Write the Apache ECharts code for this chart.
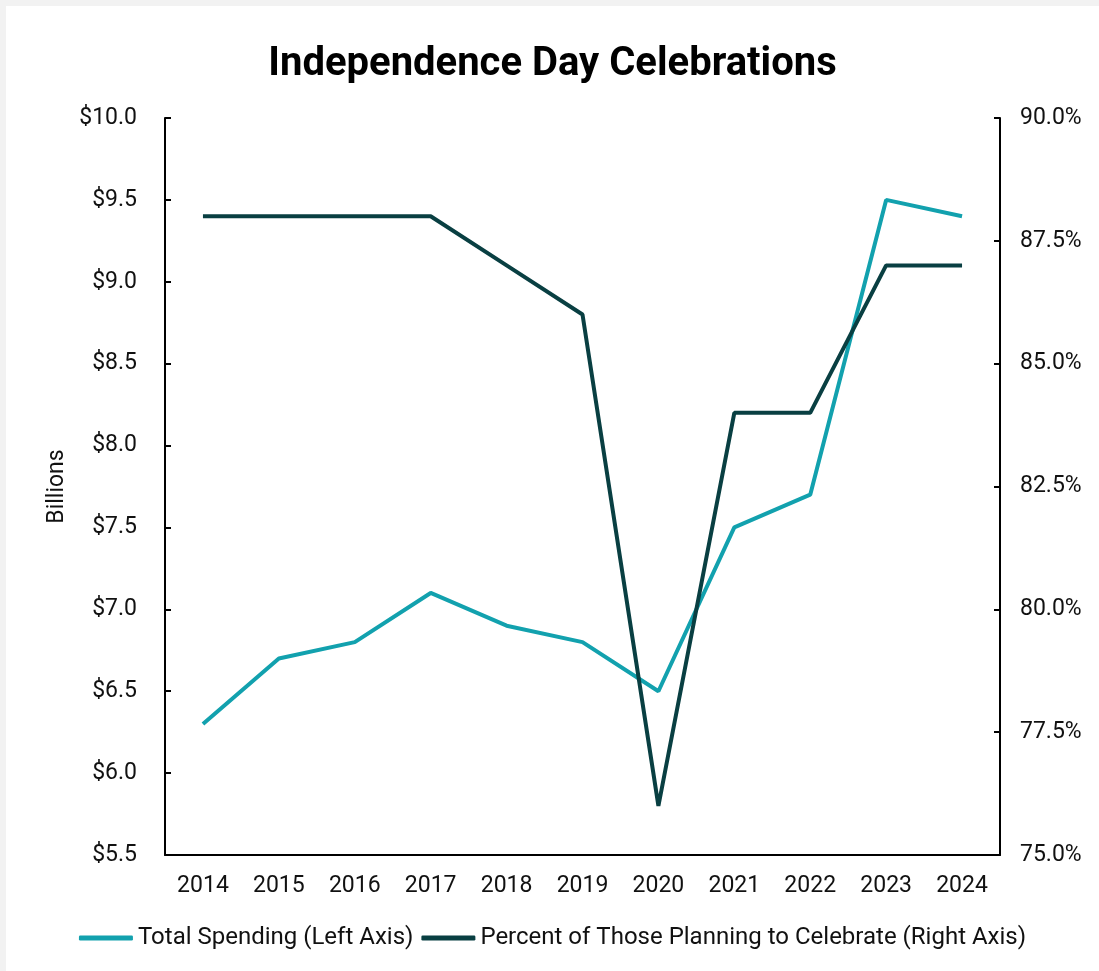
<!DOCTYPE html>
<html>
<head>
<meta charset="utf-8">
<script src="https://cdn.jsdelivr.net/npm/echarts@6/dist/echarts.min.js"></script>
<style>
  html, body { margin: 0; padding: 0; background: #f2f2f2; }
  #chart { position: absolute; left: 6px; top: 6px; width: 1093px; height: 965px; background: #fff; }
</style>
</head>
<body>
<div id="chart"></div>
<script>
// 独立日数据
var years = ['2014', '2015', '2016', '2017', '2018', '2019', '2020', '2021', '2022', '2023', '2024'];
var spending = [6.3, 6.7, 6.8, 7.1, 6.9, 6.8, 6.5, 7.5, 7.7, 9.5, 9.4];
var percentCelebrate = [88, 88, 88, 88, 87, 86, 76, 84, 84, 87, 87];

var chart = echarts.init(document.getElementById('chart'));

var labelFont = { fontFamily: 'Roboto', fontSize: 23, color: '#111' };

option = {
    animation: false,
    textStyle: { fontFamily: 'Roboto' },
    title: {
        text: 'Independence Day Celebrations',
        left: 'center',
        top: 34,
        textStyle: {
            fontFamily: 'Roboto',
            fontSize: 40,
            fontWeight: 'bold',
            color: '#000'
        }
    },
    grid: {
        left: 159,
        top: 112,
        width: 835,
        height: 737
    },
    legend: {
        bottom: 16,
        left: 'center',
        itemWidth: 54,
        itemHeight: 5,
        itemGap: 8,
        icon: 'roundRect',
        textStyle: { fontFamily: 'Roboto', fontSize: 24, color: '#111' },
        data: ['Total Spending (Left Axis)', 'Percent of Those Planning to Celebrate (Right Axis)']
    },
    xAxis: {
        type: 'category',
        data: years,
        boundaryGap: true,
        axisLine: { lineStyle: { color: '#000', width: 2 } },
        axisTick: { inside: true, length: 6, lineStyle: { color: '#000', width: 2 } },
        axisLabel: Object.assign({ margin: 20 }, labelFont)
    },
    yAxis: [
        {
            type: 'value',
            min: 5.5,
            max: 10,
            interval: 0.5,
            name: 'Billions',
            nameLocation: 'middle',
            nameGap: 96,
            nameTextStyle: { fontFamily: 'Roboto', fontSize: 23, color: '#111' },
            splitLine: { show: false },
            axisLine: { show: true, lineStyle: { color: '#000', width: 2 } },
            axisTick: { show: true, inside: true, length: 6, lineStyle: { color: '#000', width: 2 } },
            axisLabel: Object.assign({
                margin: 28,
                formatter: function (v) { return '$' + v.toFixed(1); }
            }, labelFont)
        },
        {
            type: 'value',
            min: 75,
            max: 90,
            interval: 2.5,
            position: 'right',
            splitLine: { show: false },
            axisLine: { show: true, lineStyle: { color: '#000', width: 2 } },
            axisTick: { show: true, inside: true, length: 6, lineStyle: { color: '#000', width: 2 } },
            axisLabel: Object.assign({
                margin: 20,
                formatter: function (v) { return v.toFixed(1) + '%'; }
            }, labelFont)
        }
    ],
    series: [
        {
            name: 'Total Spending (Left Axis)',
            type: 'line',
            yAxisIndex: 0,
            data: spending,
            symbol: 'none',
            lineStyle: { color: '#12a1ae', width: 4 },
            itemStyle: { color: '#12a1ae' }
        },
        {
            name: 'Percent of Those Planning to Celebrate (Right Axis)',
            type: 'line',
            yAxisIndex: 1,
            data: percentCelebrate,
            symbol: 'none',
            lineStyle: { color: '#093f42', width: 4 },
            itemStyle: { color: '#093f42' }
        }
    ]
};

chart.setOption(option);
</script>
</body>
</html>
